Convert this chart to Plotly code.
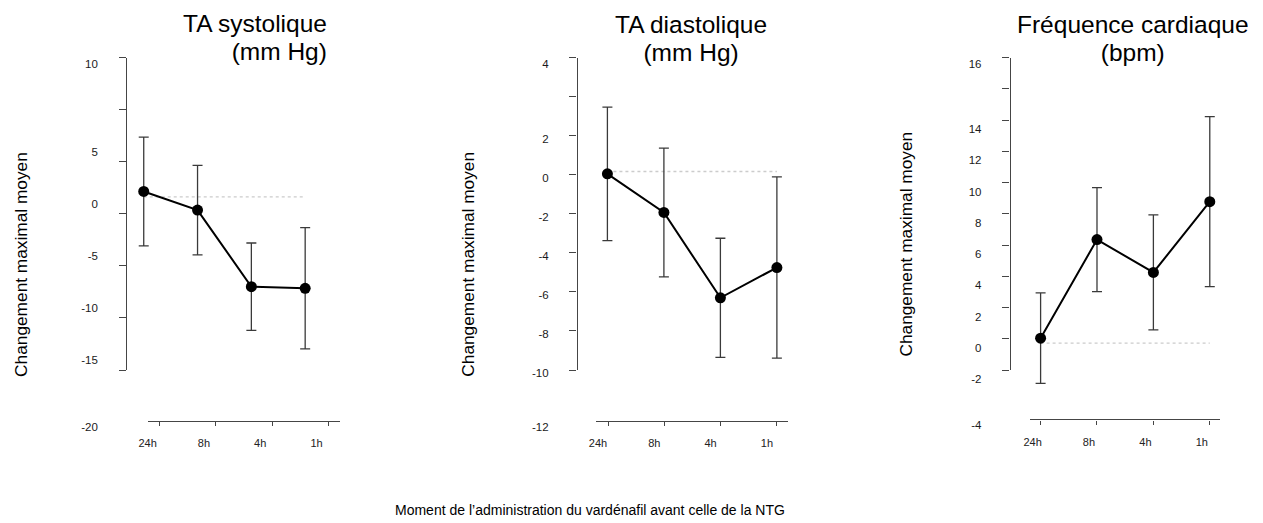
import plotly.graph_objects as go

W, H = 1263, 523

# ---------------- data ----------------
categories = ["24h", "8h", "4h", "1h"]

titles = [["TA systolique", "(mm Hg)"],
          ["TA diastolique", "(mm Hg)"],
          ["Fréquence cardiaque", "(bpm)"]]

sys_mean = [2.15, 0.36, -7.0, -7.15]
sys_err = [5.22, 4.3, 4.2, 5.82]
dia_mean = [0.05, -1.93, -6.3, -4.75]
dia_err = [3.42, 3.3, 3.05, 4.64]
hr_mean = [0.04, 6.35, 4.25, 8.78]
hr_err = [2.9, 3.33, 3.68, 5.44]

sys_ticks = [15, 10, 5, 0, -5, -10, -15]
sys_labels = ["10", "5", "0", "-5", "-10", "-15", "-20"]
dia_ticks = [6, 4, 2, 0, -2, -4, -6, -8, -10]
dia_labels = ["4", "2", "0", "-2", "-4", "-6", "-8", "-10", "-12"]
hr_ticks = [18, 16, 14, 12, 10, 8, 6, 4, 2, 0, -2]
hr_labels = ["16", "14", "12", "10", "8", "6", "4", "2", "0", "-2", "-4"]

ref_levels = [1.63, 0.17, -0.28]

y_title = "Changement maximal moyen"
x_title = "Moment de l’administration du vardénafil avant celle de la NTG"

means = [sys_mean, dia_mean, hr_mean]
errs = [sys_err, dia_err, hr_err]
ticks = [sys_ticks, dia_ticks, hr_ticks]
labels = [sys_labels, dia_labels, hr_labels]

# ---------------- layout geometry (pixels) ----------------
TICK_TOP, TICK_BOT = 57.7, 370.0
geom = [
    dict(yline_x=117.7, p0=135.7, pstep=54.2, t0=151.7, tstep=56.7, xl0=140, xl1=333,
         xline_y=420.7, title_x=322, title_y=37.5, title_anchor="right", ytitle_x=12, ytitle_y=264,
         mid_shift=-10, x_shift=-12),
    dict(yline_x=571.7, p0=602.7, pstep=56.9, t0=603.3, tstep=56.7, xl0=591.7, xl1=784.3,
         xline_y=421.0, title_x=687, title_y=38.5, title_anchor="center", ytitle_x=462, ytitle_y=264,
         mid_shift=3, x_shift=-10),
    dict(yline_x=1007.7, p0=1039, pstep=56.8, t0=1039, tstep=56.8, xl0=1028, xl1=1220,
         xline_y=419.3, title_x=1132, title_y=38.5, title_anchor="center", ytitle_x=903, ytitle_y=244,
         mid_shift=9, x_shift=-8),
]

FONT = "Liberation Sans, Arial, Helvetica, sans-serif"
AXC = "#454545"


def fx(px):
    return px / W


def fy(py):
    return 1 - py / H


fig = go.Figure()
layout = dict(width=W, height=H, margin=dict(l=0, r=0, t=0, b=0),
              paper_bgcolor="white", plot_bgcolor="rgba(0,0,0,0)", showlegend=False,
              font=dict(family=FONT, color="#222"))
annotations = []

for i, g in enumerate(geom):
    xd, xdeco = 2 * i + 1, 2 * i + 2
    yd, ydeco, ymid, yend = 4 * i + 1, 4 * i + 2, 4 * i + 3, 4 * i + 4
    tv = ticks[i]
    vmax, vmin = max(tv), min(tv)
    ppu = (TICK_BOT - TICK_TOP) / (vmax - vmin)

    def val(py, vmax=vmax, ppu=ppu):
        return vmax - (py - TICK_TOP) / ppu

    dy0, dy1 = 470, 20
    dx0, dx1 = g["yline_x"] - 10, g["xl1"] + 20
    xr = [(dx0 - g["p0"]) / g["pstep"], (dx1 - g["p0"]) / g["pstep"]]
    yr = [val(dy0), val(dy1)]

    hidden = dict(visible=False, showgrid=False, zeroline=False, fixedrange=True)
    layout[f"xaxis{xd}"] = dict(hidden, domain=[fx(dx0), fx(dx1)], range=xr, anchor=f"y{yd}")
    layout[f"yaxis{yd}"] = dict(hidden, domain=[fy(dy0), fy(dy1)], range=yr, anchor=f"x{xd}")

    # decorative x axis (detached)
    layout[f"xaxis{xdeco}"] = dict(
        domain=[fx(g["xl0"]), fx(g["xl1"])],
        range=[(g["xl0"] - g["t0"]) / g["tstep"], (g["xl1"] - g["t0"]) / g["tstep"]],
        anchor="free", position=fy(g["xline_y"]), side="bottom",
        showline=True, linecolor=AXC, linewidth=1.4, showgrid=False, zeroline=False,
        ticks="outside", ticklen=4, tickwidth=1.2, tickcolor=AXC,
        tickmode="array", tickvals=list(range(len(categories))), ticktext=categories,
        tickfont=dict(size=11, family=FONT, color="#222"),
        ticklabelshift=g["x_shift"], ticklabelstandoff=8, fixedrange=True)

    # decorative y axis: line + tick marks
    layout[f"yaxis{ydeco}"] = dict(
        domain=[fy(TICK_BOT), fy(TICK_TOP)], range=[vmin, vmax],
        anchor="free", position=fx(g["yline_x"]), side="left",
        showline=True, linecolor=AXC, linewidth=1.4, showgrid=False, zeroline=False,
        ticks="outside", ticklen=7, tickwidth=1.2, tickcolor=AXC,
        tickmode="array", tickvals=tv, showticklabels=False, fixedrange=True)

    lab = labels[i]
    mid_labels = lab[1:-1]
    # middle labels, at their own values
    layout[f"yaxis{ymid}"] = dict(
        domain=[fy(dy0), fy(dy1)], range=yr,
        anchor="free", position=fx(g["yline_x"]), side="left",
        showline=False, showgrid=False, zeroline=False, ticks="",
        tickmode="array", tickvals=[float(s) for s in mid_labels], ticktext=mid_labels,
        tickfont=dict(size=11.5, family=FONT, color="#1a1a1a"),
        ticklabelshift=g["mid_shift"], ticklabelstandoff=28, fixedrange=True)
    # end labels: top of the axis and level of the x axis
    layout[f"yaxis{yend}"] = dict(
        domain=[fy(dy0), fy(dy1)], range=yr,
        anchor="free", position=fx(g["yline_x"]), side="left",
        showline=False, showgrid=False, zeroline=False, ticks="",
        tickmode="array", tickvals=[vmax, val(g["xline_y"])], ticktext=[lab[0], lab[-1]],
        tickfont=dict(size=11.5, family=FONT, color="#1a1a1a"),
        ticklabelshift=6, ticklabelstandoff=28, fixedrange=True)

    # dummy traces so that every axis is drawn
    for xa, ya in [(xdeco, yd), (xd, ydeco), (xd, ymid), (xd, yend)]:
        fig.add_trace(go.Scatter(x=[None], y=[None], xaxis=f"x{xa}", yaxis=f"y{ya}",
                                 mode="markers", hoverinfo="skip", showlegend=False))

    xs = list(range(len(categories)))
    # dotted reference line
    fig.add_trace(go.Scatter(x=[xs[0], xs[-1]], y=[ref_levels[i]] * 2, mode="lines",
                             line=dict(color="#cccccc", width=1.4, dash="dot"),
                             xaxis=f"x{xd}", yaxis=f"y{yd}", hoverinfo="skip"))
    # mean with error bars
    fig.add_trace(go.Scatter(
        x=xs, y=means[i], mode="lines+markers",
        line=dict(color="black", width=2),
        marker=dict(color="black", size=11),
        error_y=dict(type="data", array=errs[i], visible=True, color="#3a3a3a",
                     thickness=1.3, width=5),
        xaxis=f"x{xd}", yaxis=f"y{yd}", name=titles[i][0]))

    # two-line title (base font sets the line spacing, span sets the glyph size)
    title_text = "<br>".join(f"<span style='font-size:24.5px'>{t}</span>" for t in titles[i])
    annotations.append(dict(text=title_text, x=fx(g["title_x"]), y=fy(g["title_y"]),
                            xref="paper", yref="paper", xanchor=g["title_anchor"],
                            align=g["title_anchor"], yanchor="middle", showarrow=False,
                            font=dict(size=21.8, family=FONT, color="black")))
    annotations.append(dict(text=y_title, x=fx(g["ytitle_x"]), y=fy(g["ytitle_y"]),
                            xref="paper", yref="paper", xanchor="center", yanchor="middle",
                            textangle=-90, showarrow=False,
                            font=dict(size=17.3, family=FONT, color="black")))

annotations.append(dict(text=x_title, x=fx(585), y=fy(510), xref="paper", yref="paper",
                        xanchor="center", yanchor="middle", showarrow=False,
                        font=dict(size=14, family=FONT, color="black")))
layout["annotations"] = annotations
fig.update_layout(**layout)

fig.write_html("out.html", config={"displayModeBar": False},
               post_script="document.body.style.margin='0px';")
